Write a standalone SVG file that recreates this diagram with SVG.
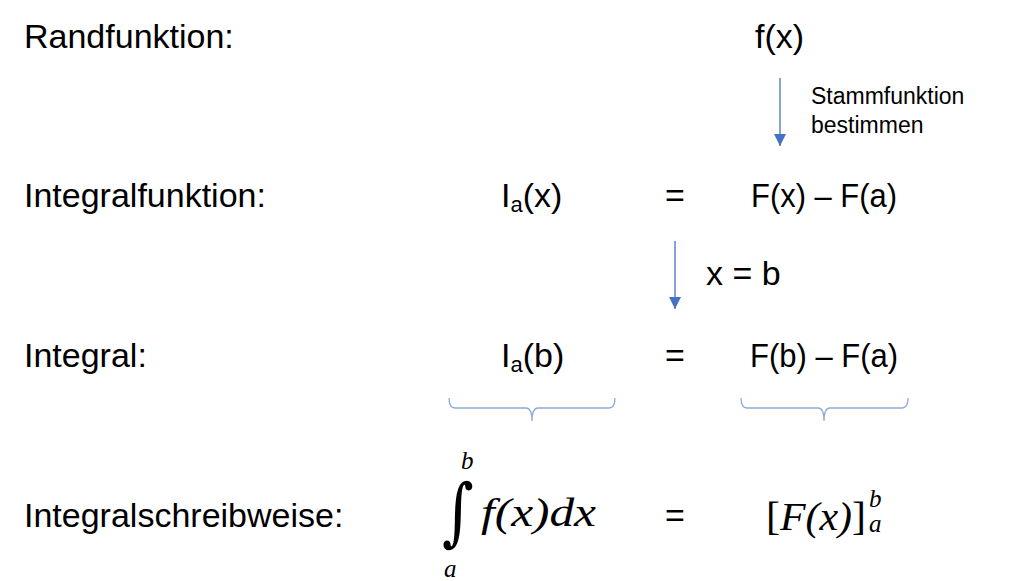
<svg xmlns="http://www.w3.org/2000/svg" width="1012" height="581" viewBox="0 0 1012 581">
<defs>
<style>
.t{font-family:"Liberation Sans",Arial,sans-serif;font-size:34px;fill:#000}
.s{font-family:"Liberation Sans",Arial,sans-serif;font-size:23px;fill:#000}
.sub{font-size:22px}
.m{font-family:"Liberation Serif","Times New Roman",serif;font-style:italic;font-size:39px;fill:#000}
.ms{font-family:"Liberation Serif","Times New Roman",serif;font-style:italic;font-size:25px;fill:#000}
.ig{font-family:"DejaVu Serif",serif;font-size:64px;fill:#000}
.c{stroke:#4472C4;stroke-width:1.3;fill:none}
.b{stroke:#8FAADC;stroke-width:1.3;fill:none}
</style>
<marker id="ah" viewBox="0 0 12 12" refX="12" refY="6" markerWidth="12" markerHeight="12" markerUnits="userSpaceOnUse" orient="auto">
<path d="M0,0 L12,6 L0,12 Z" fill="#4472C4"/>
</marker>
</defs>
<rect width="1012" height="581" fill="#fff"/>
<g id="labels">
<text class="t" x="24" y="48">Randfunktion:</text>
<text class="t" x="24" y="207">Integralfunktion:</text>
<text class="t" x="24" y="367">Integral:</text>
<text class="t" x="24" y="527">Integralschreibweise:</text>
</g>
<g id="node-fx"><text class="t" x="755" y="48">f(x)</text></g>
<g id="node-Iax"><text class="t" x="501" y="207">I<tspan class="sub" dy="5">a</tspan><tspan dy="-5">(x)</tspan></text></g>
<g id="node-eq1"><text class="t" x="675" y="207" text-anchor="middle">=</text></g>
<g id="node-Fx"><text class="t" x="824" y="207" text-anchor="middle" textLength="146" lengthAdjust="spacingAndGlyphs">F(x) – F(a)</text></g>
<g id="node-Iab"><text class="t" x="501" y="367">I<tspan class="sub" dy="5">a</tspan><tspan dy="-5">(b)</tspan></text></g>
<g id="node-eq2"><text class="t" x="675" y="367" text-anchor="middle">=</text></g>
<g id="node-Fb"><text class="t" x="824" y="367" text-anchor="middle" textLength="148" lengthAdjust="spacingAndGlyphs">F(b) – F(a)</text></g>
<g id="node-int">
<text class="ig" x="0" y="0" transform="translate(442,537) scale(0.95,1.16)">∫</text>
<text class="ms" x="461" y="469">b</text>
<text class="ms" x="444" y="577">a</text>
<text class="m" x="481" y="526" textLength="115" lengthAdjust="spacingAndGlyphs">f(x)dx</text>
</g>
<g id="node-eq3"><text class="t" x="675" y="527" text-anchor="middle">=</text></g>
<g id="node-bracket">
<text class="m" x="766" y="530" textLength="100" lengthAdjust="spacingAndGlyphs"><tspan font-style="normal">[</tspan>F(x)<tspan font-style="normal">]</tspan></text>
<text class="ms" x="869" y="507">b</text>
<text class="ms" x="869" y="532">a</text>
</g>
<g id="connectors">
<line class="c" x1="780" y1="78" x2="780" y2="146" marker-end="url(#ah)"/>
<text class="s" x="811" y="104">Stammfunktion</text>
<text class="s" x="811" y="133">bestimmen</text>
<line class="c" x1="675" y1="241" x2="675" y2="309" marker-end="url(#ah)"/>
<text class="t" x="706" y="285">x = b</text>
<path class="b" d="M449,398 Q449,408 455,408 L526,408 Q532,408 532,421 Q532,408 538,408 L609,408 Q615,408 615,398"/>
<path class="b" d="M741,398 Q741,408 747,408 L818,408 Q824,408 824,421 Q824,408 830,408 L902,408 Q908,408 908,398"/>
</g>
</svg>
